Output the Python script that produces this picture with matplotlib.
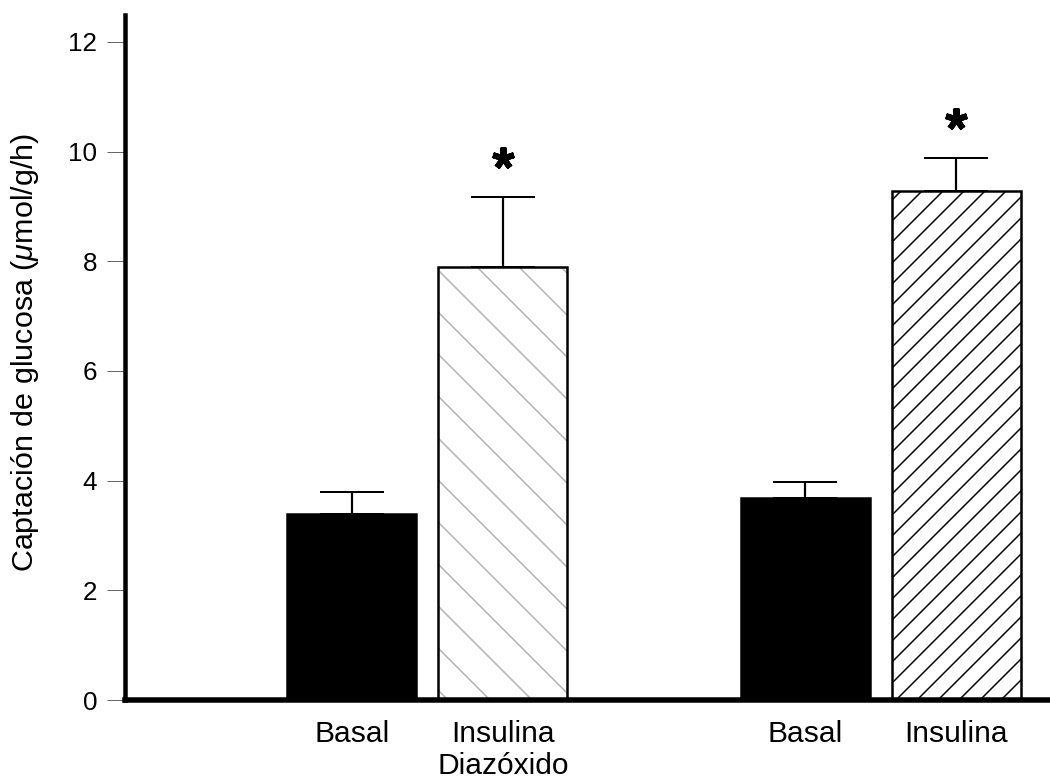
import matplotlib
matplotlib.use("Agg")
import matplotlib.pyplot as plt

DPI = 126
def px(v):
    return v * 72.0 / DPI

# ---- data ----
categories = ["Basal", "Insulina\nDiazóxido", "Basal", "Insulina"]
means = [3.39, 7.90, 3.68, 9.28]
errors = [0.40, 1.27, 0.30, 0.60]
star_values = [None, 9.88, None, 10.60]
yticks = [0, 2, 4, 6, 8, 10, 12]
ylabel = "Captación de glucosa ($\\mu$mol/g/h)"

positions = [0, 1, 3, 4]
facecolors = ["black", "white", "black", "white"]
hatches = [None, "\\", None, "//"]
hatchcols = [None, "#b3b3b3", None, "black"]

plt.rcParams["font.family"] = ["Liberation Sans", "DejaVu Sans"]
plt.rcParams["mathtext.fontset"] = "custom"
plt.rcParams["mathtext.it"] = "Liberation Sans:italic"
plt.rcParams["mathtext.rm"] = "Liberation Sans"
plt.rcParams["hatch.linewidth"] = px(1.5)

fig = plt.figure(figsize=(1050 / DPI, 780 / DPI), dpi=DPI)
ax = fig.add_axes([125 / 1050, 80 / 780, 925 / 1050, 685 / 780])

width = 0.855
for x, m, fc, h, hc in zip(positions, means, facecolors, hatches, hatchcols):
    if h is not None:
        ax.bar(x, m, width=width, color="white", edgecolor=hc, hatch=h,
               linewidth=0, zorder=2)
        ax.bar(x, m, width=width, fill=False, edgecolor="black",
               linewidth=px(2.5), zorder=3)
    else:
        ax.bar(x, m, width=width, color=fc, edgecolor="black",
               linewidth=px(2.5), zorder=3)

ax.errorbar(positions, means, yerr=[[0] * len(errors), errors], fmt="none",
            ecolor="black", elinewidth=px(2.2), capsize=px(64) / 2,
            capthick=px(2.0), zorder=4)

for x, s in zip(positions, star_values):
    if s is not None:
        ax.plot([x], [s], marker=(5, 2, 0), markersize=px(22),
                markeredgewidth=px(6), color="black", linestyle="none",
                zorder=5)

ax.set_xlim(-1.5, 4.62)
ax.set_ylim(0, 12.49)
ax.set_yticks(yticks)
ax.set_yticklabels([str(t) for t in yticks])
ax.set_xticks(positions)
ax.set_xticklabels(categories, fontsize=px(30), linespacing=1.2)

ax.tick_params(axis="y", direction="out", length=px(18), width=px(1.0),
               color="#666666", pad=px(10), labelsize=px(26))
ax.tick_params(axis="x", length=0, pad=px(20))

for side in ["top", "right"]:
    ax.spines[side].set_visible(False)
ax.spines["left"].set_linewidth(px(4.5))
ax.spines["bottom"].set_linewidth(px(5.5))
ax.spines["left"].set_zorder(6)
ax.spines["bottom"].set_zorder(6)

ax.set_ylabel(ylabel, fontsize=px(30.5), va="center")
ax.yaxis.set_label_coords(-0.108, 0.507)

fig.savefig("out.png", dpi=DPI, facecolor="white")
